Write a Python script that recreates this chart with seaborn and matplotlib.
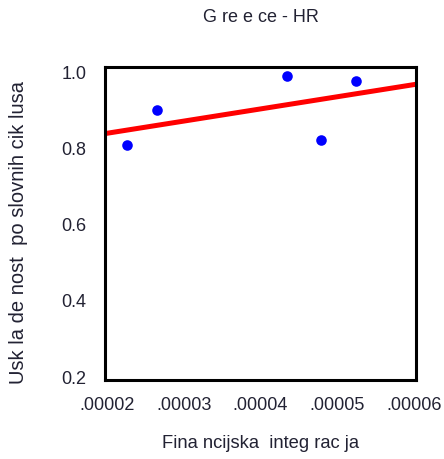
import numpy as np
import pandas as pd
import seaborn as sns
import matplotlib.pyplot as plt
from matplotlib.ticker import FixedLocator, FixedFormatter

# data
fin_integ = [0.00002257, 0.00002648, 0.00004341, 0.00004788, 0.0000524]
sync = [0.806, 0.898, 0.988, 0.820, 0.975]

x_ticks = [0.00002, 0.00003, 0.00004, 0.00005, 0.00006]
x_tick_labels = ['.00002', '.00003', '.00004', '.00005', '.00006']
y_ticks = [0.2, 0.4, 0.6, 0.8, 1.0]
y_tick_labels = ['0.2', '0.4', '0.6', '0.8', '1.0']

df = pd.DataFrame({'x': fin_integ, 'y': sync})

sns.set_style('white')
plt.rcParams['font.family'] = ['Liberation Sans', 'DejaVu Sans']

fig = plt.figure(figsize=(4.44, 4.60), dpi=100)
ax = fig.add_axes([0.2365, 0.172, 0.7005, 0.680])
ax.set_xlim(0.0000197, 0.0000603)
ax.set_ylim(0.19, 1.012)

sns.regplot(data=df, x='x', y='y', ax=ax, ci=None, truncate=False,
            scatter_kws={'color': 'blue', 's': 58, 'linewidths': 0,
                         'alpha': 1, 'zorder': 3},
            line_kws={'color': 'red', 'lw': 3.6, 'zorder': 2})

ax.xaxis.set_major_locator(FixedLocator(x_ticks))
ax.xaxis.set_major_formatter(FixedFormatter(x_tick_labels))
ax.yaxis.set_major_locator(FixedLocator(y_ticks))
ax.yaxis.set_major_formatter(FixedFormatter(y_tick_labels))

for s in ax.spines.values():
    s.set_linewidth(2.2)
    s.set_color('black')
ax.tick_params(axis='both', direction='out', length=5.5, width=3,
               labelsize=13, colors='black', labelcolor='#222233')
ax.tick_params(axis='x', pad=6)
ax.tick_params(axis='y', pad=8)

ax.set_title('G re e ce - HR', fontsize=13, pad=33, color='#222233')
ax.set_xlabel('Fina ncijska  integ rac ja', fontsize=13.2, labelpad=15, color='#222233')
ax.set_ylabel('Usk la de nost  po slovnih cik lusa', fontsize=14.5, color='#222233')
ax.yaxis.set_label_coords(-0.248, 0.473)

fig.savefig('out.png', dpi=100)
